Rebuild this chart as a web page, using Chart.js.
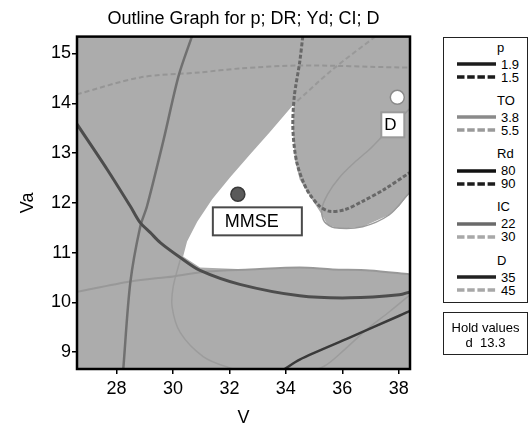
<!DOCTYPE html>
<html>
<head>
<meta charset="utf-8">
<script src="https://cdn.jsdelivr.net/npm/chart.js@4.4.1/dist/chart.umd.min.js"></script>
<style>
  html, body { margin: 0; padding: 0; background: #fff; }
  #wrap { position: relative; width: 528px; height: 425px; overflow: hidden; font-family: 'Liberation Sans', Arial, sans-serif; }
  #chart { position: absolute; left: 0; top: 0; }
  .box { position: absolute; border: 1px solid #222; background: #fff; box-sizing: border-box; }
  .txt { position: absolute; font-size: 13px; line-height: 15px; color: #000; white-space: pre; }
</style>
</head>
<body>
<div id="wrap">
  <canvas id="chart" width="528" height="425"></canvas>
  <div id="legend" class="box" style="left:443px; top:37px; width:85px; height:266px;"></div>
  <div id="hold" class="box" style="left:443px; top:312px; width:85px; height:43px;"></div>
</div>
<script>
// axes
const xTicks = [28, 30, 32, 34, 36, 38];
const yTicks = [9, 10, 11, 12, 13, 14, 15];
const xRange = [26.6, 38.4];
const yRange = [8.66, 15.34];

// contour lines, [V, Va] pairs
const p15 = [[34.60, 15.34], [34.49, 14.82], [34.30, 14.14], [34.25, 13.48], [34.39, 12.81], [34.74, 12.27], [35.20, 11.93], [35.55, 11.83], [36.08, 11.86], [36.72, 12.03], [37.49, 12.27], [38.4, 12.61]];
const to38 = [[26.6, 10.21], [28.49, 10.42], [30.01, 10.52], [31.21, 10.62], [32.73, 10.66], [34.49, 10.70], [35.66, 10.66], [36.96, 10.64], [38.4, 10.56]];
const to38b = [[38.4, 13.9], [38.20, 13.78], [37.95, 13.64], [37.49, 13.38], [36.96, 13.07], [36.43, 12.81], [35.90, 12.51], [35.48, 12.17], [35.27, 11.86], [35.37, 11.62], [35.73, 11.50], [36.72, 11.52], [37.67, 11.76], [38.27, 12.13], [38.4, 12.21]];
const to55 = [[37.17, 15.34], [35.66, 14.68], [34.28, 13.98]];
const rd80 = [[26.6, 13.58], [27.67, 12.67], [28.49, 11.93], [28.84, 11.60], [29.20, 11.40], [29.55, 11.20], [30.26, 10.90], [30.96, 10.64], [32.37, 10.36], [34.49, 10.13], [36.26, 10.09], [38.02, 10.15], [38.4, 10.21]];
const ic22 = [[30.67, 15.34], [30.20, 14.55], [29.67, 13.27], [29.08, 11.93], [28.84, 11.52], [28.49, 10.40], [28.24, 8.66]];
const ic30 = [[26.6, 14.18], [28.84, 14.52], [30.96, 14.62], [32.37, 14.70], [34.49, 14.76], [38.02, 14.72], [38.4, 14.72]];
const d35 = [[33.96, 8.66], [34.49, 8.85], [36.26, 9.29], [38.02, 9.73], [38.4, 9.83]];
const d45 = [[30.26, 10.86], [30.01, 10.32], [29.97, 9.91], [30.26, 9.39], [31.07, 8.91], [31.92, 8.70], [33.08, 8.54], [34.49, 8.56], [35.37, 8.72], [36.08, 9.05], [36.86, 9.45], [37.67, 9.81], [38.4, 10.15]];

// feasible (white) region outline
const feasible = [[34.28, 13.98], [33.43, 13.42], [32.73, 12.97], [32.02, 12.51], [31.39, 12.07], [30.86, 11.62], [30.50, 11.22], [30.36, 10.92], [30.96, 10.70], [32.73, 10.66], [34.49, 10.70], [35.66, 10.66], [36.96, 10.64], [38.4, 10.56], [38.4, 12.21], [38.02, 11.93], [37.67, 11.76], [36.72, 11.52], [35.90, 11.48], [35.48, 11.56], [35.20, 11.83], [34.85, 12.13], [34.49, 12.47], [34.32, 12.87], [34.25, 13.48]];

// marked points
const pointNames = ['MMSE', 'D'];
const pointX = [32.30, 37.95];
const pointY = [12.17, 14.12];

// legend
const legendNames = ['p', 'TO', 'Rd', 'IC', 'D'];
const legendLevels = [['1.9', '1.5'], ['3.8', '5.5'], ['80', '90'], ['22', '30'], ['35', '45']];
const holdName = 'd';
const holdValue = '13.3';

const legendStyles = [
    [['#1c1c1c', false], ['#1c1c1c', true]],
    [['#8a8a8a', false], ['#9a9a9a', true]],
    [['#111', false], ['#1c1c1c', true]],
    [['#6a6a6a', false], ['#a8a8a8', true]],
    [['#222', false], ['#a8a8a8', true]]
];

const pts = arr => arr.map(([x, y]) => ({x, y}));

function contour(label, data, color, width, dash) {
    return {
        label: label,
        data: pts(data),
        borderColor: color,
        borderWidth: width,
        borderDash: dash || [],
        pointRadius: 0,
        pointHoverRadius: 0,
        fill: false,
        tension: 0.3,
        clip: 0,
        order: 2
    };
}

const plotBackground = {
    id: 'plotBackground',
    beforeDatasetsDraw(chart) {
        const {ctx, chartArea: a} = chart;
        ctx.save();
        ctx.fillStyle = '#acacac';
        ctx.fillRect(a.left, a.top, a.right - a.left, a.bottom - a.top);
        ctx.restore();
    }
};

const boxStyle = [
    {dx: -25, dy: 13, w: 89, h: 28, pad: 12, size: 18, border: '#4a4a4a'},
    {dx: -16, dy: 15, w: 23, h: 25, pad: 3, size: 17, border: '#9a9a9a'}
];

const labelBoxes = {
    id: 'labelBoxes',
    afterDatasetsDraw(chart) {
        const {ctx} = chart;
        const x = chart.scales.x, y = chart.scales.y;
        ctx.save();
        pointNames.forEach((name, i) => {
            const px = x.getPixelForValue(pointX[i]);
            const py = y.getPixelForValue(pointY[i]);
            const b = boxStyle[i];
            ctx.fillStyle = '#fff';
            ctx.fillRect(px + b.dx, py + b.dy, b.w, b.h);
            ctx.strokeStyle = b.border;
            ctx.lineWidth = 2;
            ctx.strokeRect(px + b.dx, py + b.dy, b.w, b.h);
            ctx.fillStyle = '#000';
            ctx.font = b.size + "px 'Liberation Sans', Arial, sans-serif";
            ctx.textAlign = 'left';
            ctx.textBaseline = 'middle';
            ctx.fillText(name, px + b.dx + b.pad, py + b.dy + b.h / 2 + 1);
        });
        const a = chart.chartArea;
        ctx.strokeStyle = '#000';
        ctx.lineWidth = 2.5;
        ctx.strokeRect(a.left, a.top, a.right - a.left, a.bottom - a.top);
        ctx.restore();
    }
};

Chart.defaults.font.family = "'Liberation Sans', Arial, sans-serif";
Chart.defaults.color = '#000';

new Chart(document.getElementById('chart'), {
    type: 'line',
    data: {
        datasets: [
            {
                label: 'MMSE',
                data: [{x: pointX[0], y: pointY[0]}],
                showLine: false,
                pointRadius: 7,
                pointBackgroundColor: '#5a5a5a',
                pointBorderColor: '#3a3a3a',
                pointBorderWidth: 1.5,
                order: 0
            },
            {
                label: 'D',
                data: [{x: pointX[1], y: pointY[1]}],
                showLine: false,
                pointRadius: 7,
                pointBackgroundColor: '#fff',
                pointBorderColor: '#8a8a8a',
                pointBorderWidth: 1.5,
                order: 0
            },
            contour('D = 35', d35, '#3a3a3a', 2.5),
            contour('Rd = 80', rd80, '#4d4d4d', 3),
            contour('p = 1.5', p15, '#686868', 3, [4, 2]),
            contour('IC = 22', ic22, '#707070', 2.5),
            contour('IC = 30', ic30, '#959595', 2, [5, 3]),
            contour('TO = 5.5', to55, '#999999', 2, [5, 3]),
            contour('TO = 3.8', to38, '#989898', 2),
            contour('TO = 3.8', to38b, '#9a9a9a', 1.5),
            contour('D = 45', d45, '#9c9c9c', 1.5),
            {
                label: 'feasible',
                data: pts(feasible),
                borderWidth: 0,
                borderColor: 'rgba(0,0,0,0)',
                backgroundColor: '#ffffff',
                fill: 'shape',
                pointRadius: 0,
                tension: 0,
                clip: 0,
                order: 5
            }
        ]
    },
    options: {
        responsive: false,
        animation: false,
        layout: { padding: { left: 0, right: 118, top: 0, bottom: 0 } },
        plugins: {
            legend: { display: false },
            tooltip: { enabled: false },
            title: {
                display: true,
                text: 'Outline Graph for p; DR; Yd; CI; D',
                fullSize: false,
                color: '#000',
                font: { size: 18, weight: 'normal' },
                padding: { top: 8, bottom: 7 }
            }
        },
        scales: {
            x: {
                type: 'linear',
                min: xRange[0],
                max: xRange[1],
                afterBuildTicks: s => { s.ticks = xTicks.map(v => ({value: v})); },
                afterFit: s => { s.height = 56; },
                grid: { drawOnChartArea: false, tickLength: 5, color: '#000', lineWidth: 1.5 },
                border: { display: false },
                ticks: { font: { size: 18 }, color: '#000', padding: 4, maxRotation: 0, autoSkip: false },
                title: { display: true, text: 'V', color: '#000', font: { size: 18, lineHeight: 0.75 }, padding: { top: 0, bottom: 0 } }
            },
            y: {
                type: 'linear',
                min: yRange[0],
                max: yRange[1],
                afterBuildTicks: s => { s.ticks = yTicks.map(v => ({value: v})); },
                afterFit: s => { s.width = 77; },
                grid: { drawOnChartArea: false, tickLength: 5, color: '#000', lineWidth: 1.5 },
                border: { display: false },
                ticks: { font: { size: 18 }, color: '#000', padding: 1, autoSkip: false },
                title: { display: true, text: 'Va', color: '#000', font: { size: 18, lineHeight: 1 }, padding: { top: 19, bottom: 0 } }
            }
        }
    },
    plugins: [plotBackground, labelBoxes]
});

// legend boxes in html
const legend = document.getElementById('legend');
function addText(parent, text, left, centerY, extra) {
    const d = document.createElement('div');
    d.className = 'txt';
    d.textContent = text;
    d.style.top = (centerY - 8.5) + 'px';
    if (left !== null) d.style.left = left + 'px';
    if (extra) Object.assign(d.style, extra);
    parent.appendChild(d);
}
function addSample(parent, color, dashed, centerY) {
    const ns = 'http://www.w3.org/2000/svg';
    const svg = document.createElementNS(ns, 'svg');
    svg.setAttribute('width', '39');
    svg.setAttribute('height', '6');
    svg.style.position = 'absolute';
    svg.style.left = '13px';
    svg.style.top = (centerY - 4) + 'px';
    const l = document.createElementNS(ns, 'line');
    l.setAttribute('x1', '0'); l.setAttribute('x2', '39');
    l.setAttribute('y1', '3'); l.setAttribute('y2', '3');
    l.setAttribute('stroke', color);
    l.setAttribute('stroke-width', '3.5');
    if (dashed) l.setAttribute('stroke-dasharray', '7.5 2.7');
    svg.appendChild(l);
    parent.appendChild(svg);
}
legendNames.forEach((name, i) => {
    const c = 10 + i * 53.25;
    addText(legend, name, 53, c);
    legendLevels[i].forEach((lv, j) => {
        const cy = c + (j === 0 ? 17 : 30);
        addText(legend, lv, 57, cy);
        addSample(legend, legendStyles[i][j][0], legendStyles[i][j][1], cy);
    });
});

const hold = document.getElementById('hold');
addText(hold, 'Hold values', 0, 15, { width: '100%', textAlign: 'center' });
addText(hold, holdName + '  ' + holdValue, 0, 30, { width: '100%', textAlign: 'center' });
</script>
</body>
</html>
